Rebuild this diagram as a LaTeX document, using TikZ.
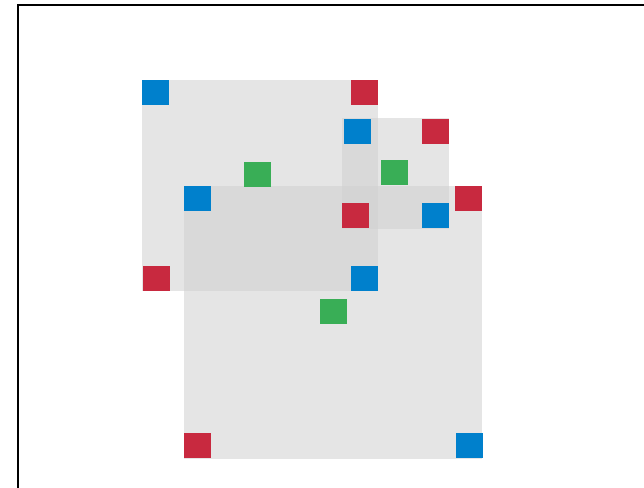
\documentclass[tikz,border=0pt]{standalone}
\definecolor{panelgray}{RGB}{207,207,207}
\definecolor{cornerblue}{RGB}{0,128,204}
\definecolor{cornerred}{RGB}{200,41,63}
\definecolor{centergreen}{RGB}{57,174,86}
\usepackage{tikz}
\usetikzlibrary{positioning}

\begin{document}
\begin{tikzpicture}[x=1pt, y=-1pt,
  panel/.style={fill=panelgray, fill opacity=0.54, inner sep=0pt, anchor=north west},
  tile/.style={inner sep=0pt, minimum width=27pt, minimum height=25pt},
  bluetile/.style={tile, fill=cornerblue},
  redtile/.style={tile, fill=cornerred},
  greentile/.style={tile, fill=centergreen, anchor=north west}]
  \useasboundingbox (0,0) rectangle (644,487);
  \draw[line width=2pt] (18,490) -- (18,5) -- (648,5);

  \node[panel, minimum width=236pt, minimum height=211pt] (boxa) at (142,80) {};
  \node[panel, minimum width=107pt, minimum height=111pt] (boxb) at (342,118) {};
  \node[panel, minimum width=298pt, minimum height=273pt] (boxc) at (184,186) {};

  \node[bluetile, anchor=north west] (boxa-nw) at (boxa.north west) {};
  \node[redtile, anchor=north east] (boxa-ne) at (boxa.north east) {};
  \node[redtile, anchor=south west] (boxa-sw) at ([xshift=1pt]boxa.south west) {};
  \node[bluetile, anchor=south east] (boxa-se) at (boxa.south east) {};
  \node[greentile] (boxa-mid) at (244,162) {};

  \node[bluetile, anchor=north west] (boxb-nw) at ([xshift=2pt, yshift=-1pt]boxb.north west) {};
  \node[redtile, anchor=north east] (boxb-ne) at ([yshift=-1pt]boxb.north east) {};
  \node[redtile, anchor=south west] (boxb-sw) at ([yshift=1pt]boxb.south west) {};
  \node[bluetile, anchor=south east] (boxb-se) at ([yshift=1pt]boxb.south east) {};
  \node[greentile] (boxb-mid) at (381,160) {};

  \node[bluetile, anchor=north west] (boxc-nw) at (boxc.north west) {};
  \node[redtile, anchor=north east] (boxc-ne) at (boxc.north east) {};
  \node[redtile, anchor=south west] (boxc-sw) at ([yshift=1pt]boxc.south west) {};
  \node[bluetile, anchor=south east] (boxc-se) at ([xshift=1pt, yshift=1pt]boxc.south east) {};
  \node[greentile] (boxc-mid) at (320,299) {};
\end{tikzpicture}
\end{document}
